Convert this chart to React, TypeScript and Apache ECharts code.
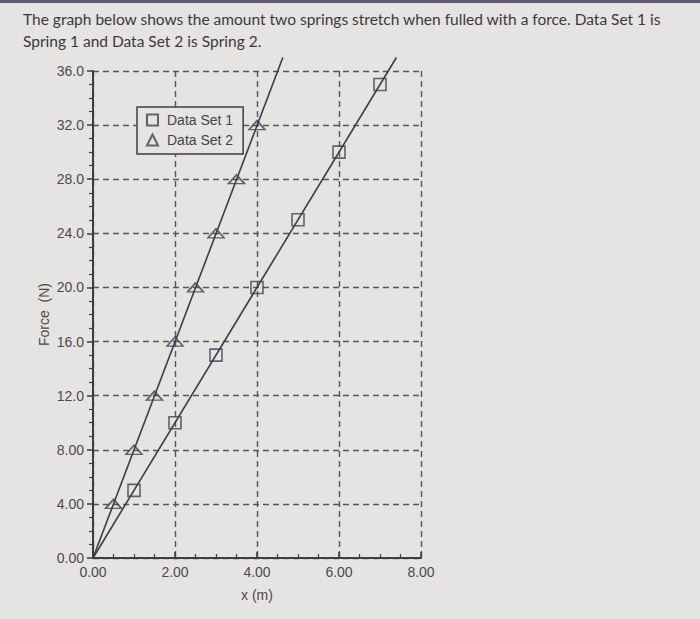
import React, { useEffect, useRef } from "react";
import * as echarts from "echarts";

const titleLines = [
  "The graph below shows the amount two springs stretch when fulled with a force. Data Set 1 is",
  "Spring 1 and Data Set 2 is Spring 2.",
];
const xTickLabels = ["0.00", "2.00", "4.00", "6.00", "8.00"];
const yTickLabels = ["0.00", "4.00", "8.00", "12.0", "16.0", "20.0", "24.0", "28.0", "32.0", "36.0"];

const set1X = [1, 2, 3, 4, 5, 6, 7];
const set1F = [5, 10, 15, 20, 25, 30, 35];
const set2X = [0.5, 1, 1.5, 2, 2.5, 3, 3.5, 4];
const set2F = [4, 8, 12, 16, 20, 24, 28, 32];

const fit1X = [0, 7.4];
const fit1F = [0, 37];
const fit2X = [0, 4.63];
const fit2F = [0, 37];

const BG = "#e5e4e2";
const INK = "#3d3d45";
const GRID = "#55555a";
const LABEL = "#4a4a4a";

export default function App() {
  const ref = useRef<HTMLDivElement>(null);
  useEffect(() => {
    if (!ref.current) return;
    const chart = echarts.init(ref.current, null, { renderer: "svg" });
    const fmtX = (v: number) => xTickLabels[Math.round(v / 2)] ?? "";
    const fmtY = (v: number) => yTickLabels[Math.round(v / 4)] ?? "";
    chart.setOption({
      animation: false,
      backgroundColor: BG,
      title: {
        text: titleLines.join("\n"),
        left: 18,
        top: 3,
        textStyle: {
          fontFamily: "Lato",
          fontSize: 15.5,
          fontWeight: "normal",
          color: "#3a3a3a",
          lineHeight: 22,
        },
      },
      graphic: [
        { type: "rect", left: 0, top: 0, shape: { width: 700, height: 3 }, style: { fill: "#5e5870" } },
      ],
      legend: {
        data: ["Data Set 1", "Data Set 2"],
        orient: "vertical",
        left: 137,
        top: 107,
        padding: [6, 10, 7, 9],
        itemWidth: 11,
        itemHeight: 11,
        itemGap: 6,
        backgroundColor: BG,
        borderColor: INK,
        borderWidth: 1.5,
        borderRadius: 0,
        z: 10,
        textStyle: { fontFamily: "Liberation Sans", fontSize: 14, color: "#444", padding: [0, 0, 0, 4] },
      },
      grid: { left: 93, right: 279, top: 71, bottom: 61, containLabel: false },
      xAxis: {
        type: "value",
        min: 0,
        max: 8,
        interval: 2,
        name: "x (m)",
        nameLocation: "middle",
        nameGap: 30,
        nameTextStyle: { fontFamily: "Liberation Sans", fontSize: 14, color: LABEL },
        axisLine: { show: true, lineStyle: { color: INK, width: 2 } },
        axisTick: { show: true, inside: true, length: 6, lineStyle: { color: INK, width: 1.5 } },
        minorTick: { show: true, splitNumber: 4, length: 4, lineStyle: { color: INK, width: 1.2 } },
        axisLabel: {
          formatter: fmtX,
          margin: 7,
          fontFamily: "Liberation Sans",
          fontSize: 14,
          color: LABEL,
        },
        splitLine: { show: true, lineStyle: { color: GRID, width: 1.4, type: [6, 4] } },
      },
      yAxis: {
        type: "value",
        min: 0,
        max: 36,
        interval: 4,
        name: "Force  (N)",
        nameLocation: "middle",
        nameGap: 42,
        nameRotate: 90,
        nameTextStyle: { fontFamily: "Liberation Sans", fontSize: 14, color: LABEL },
        axisLine: { show: true, lineStyle: { color: INK, width: 2 } },
        axisTick: { show: true, length: 6, lineStyle: { color: INK, width: 1.5 } },
        minorTick: { show: true, splitNumber: 4, length: 4, lineStyle: { color: INK, width: 1.2 } },
        axisLabel: {
          formatter: fmtY,
          margin: 9,
          fontFamily: "Liberation Sans",
          fontSize: 14,
          color: LABEL,
        },
        splitLine: { show: true, lineStyle: { color: GRID, width: 1.4, type: [6, 4] } },
      },
      series: [
        {
          name: "Fit 1",
          type: "line",
          data: fit1X.map((x, i) => [x, fit1F[i]]),
          showSymbol: false,
          symbol: "none",
          clip: false,
          lineStyle: { color: INK, width: 1.6 },
          silent: true,
        },
        {
          name: "Fit 2",
          type: "line",
          data: fit2X.map((x, i) => [x, fit2F[i]]),
          showSymbol: false,
          symbol: "none",
          clip: false,
          lineStyle: { color: INK, width: 1.6 },
          silent: true,
        },
        {
          name: "Data Set 1",
          type: "scatter",
          data: set1X.map((x, i) => [x, set1F[i]]),
          symbol: "rect",
          symbolSize: 12,
          itemStyle: { color: "rgba(0,0,0,0)", borderColor: "#404050", borderWidth: 1.6 },
          z: 5,
        },
        {
          name: "Data Set 2",
          type: "scatter",
          data: set2X.map((x, i) => [x, set2F[i]]),
          symbol: "triangle",
          symbolSize: [16, 9],
          itemStyle: { color: "rgba(0,0,0,0)", borderColor: "#404050", borderWidth: 1.6 },
          z: 5,
        },
      ],
    });
    return () => chart.dispose();
  }, []);
  return (
    <div
      ref={ref}
      style={{ position: "fixed", left: 0, top: 0, width: 700, height: 619 }}
    />
  );
}
